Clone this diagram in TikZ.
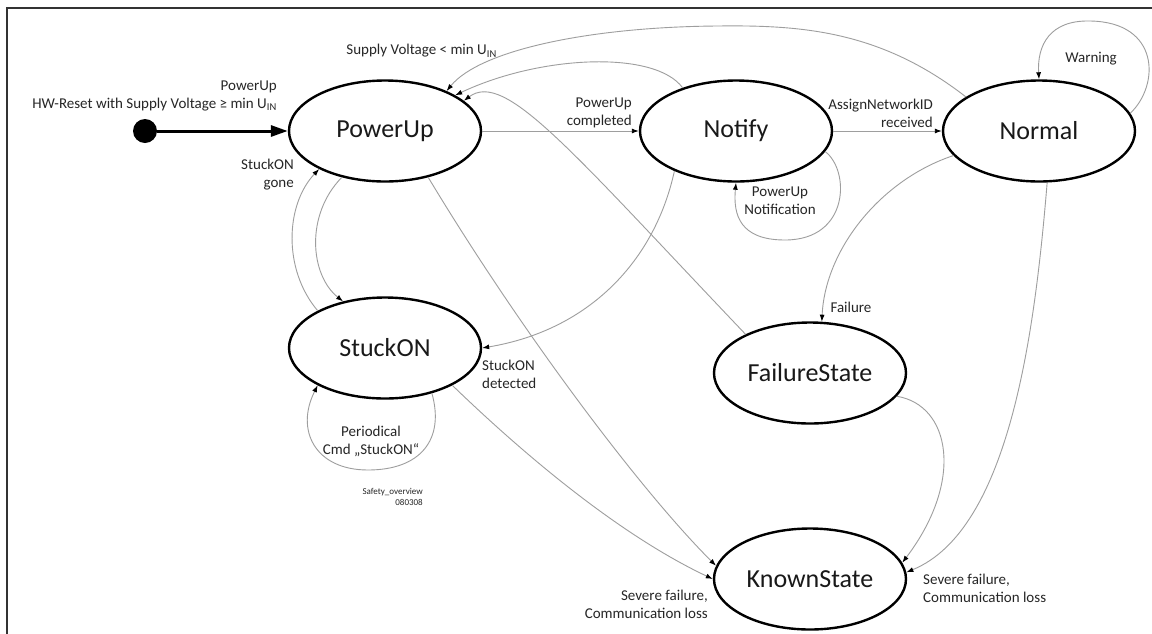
\documentclass[tikz,border=0pt]{standalone}
\usepackage{fontspec}
\setmainfont{Carlito}
\usetikzlibrary{shapes.geometric,arrows.meta}

\begin{document}
\begin{tikzpicture}[x=1pt,y=-1pt,
  state/.style={ellipse,draw=black,line width=2.4pt,minimum width=192pt,minimum height=101pt,
    inner sep=0pt,font=\fontsize{26}{30}\selectfont,text=black!90},
  trans/.style={draw=black!38,line width=0.9pt,-{Latex[length=7pt,width=5pt,color=black]}},
  lbl/.style={font=\fontsize{15}{18}\selectfont,text=black!85,inner sep=0pt},
  tiny/.style={font=\fontsize{9}{10.5}\selectfont,text=black!85,inner sep=0pt}
]
\useasboundingbox (0,0) rectangle (1152,633);
\fill[white] (0,0) rectangle (1152,633);

% outer frame (only top and left edges fall inside the page)
\draw[line width=2pt,black!80] (7,640) -- (7,8) -- (1160,8);

% states
\node[state] (pu) at (385,131) {PowerUp};
\node[state] (nt) at (736,131) {Notify};
\node[state] (nm) at (1039,131) {Normal};
\node[state] (so) at (385,348) {StuckON};
\node[state] (fs) at (810,373) {FailureState};
\node[state] (ks) at (810,579) {KnownState};

% initial pseudo state
\node[circle,fill=black,minimum size=24pt,inner sep=0pt] (init) at (145,131) {};
\draw[line width=3pt,-{Triangle[length=17pt,width=11pt]}] (init) -- (pu.west);

% transitions
\draw[trans] (pu.east) -- (nt.west);
\draw[trans] (nt.east) -- (nm.west);
\draw[trans] (nm.11) .. controls (1160,85) and (1160,22) .. (1090,21)
                     .. controls (1050,20) and (1037,45) .. (nm.90);
\draw[trans] (nm.155) .. controls (880,30) and (800,25) .. (717,26)
                      .. controls (590,27) and (480,50) .. (pu.33);
\draw[trans] (nt.141) .. controls (655,50) and (540,55) .. (pu.27);
\draw[trans] (fs.149) .. controls (570,150) and (505,70) .. (pu.21);
\draw[trans] (nt.-13) .. controls (850,170) and (850,240) .. (785,240)
                      .. controls (740,240) and (733,215) .. (nt.-90);
\draw[trans] (nt.213) .. controls (655,260) and (590,330) .. (so.0);
\draw[trans] (pu.227) .. controls (305,215) and (310,275) .. (so.132);
\draw[trans] (so.151) .. controls (283,270) and (285,205) .. (pu.210);
\draw[trans] (so.-44) .. controls (445,440) and (420,470) .. (368,470)
                      .. controls (315,470) and (295,430) .. (so.209);
\draw[trans] (so.-29) .. controls (540,470) and (630,540) .. (ks.180);
\draw[trans] (pu.-47) .. controls (520,330) and (640,490) .. (ks.172);
\draw[trans] (nm.196) .. controls (880,180) and (825,250) .. (fs.77);
\draw[trans] (fs.-15) .. controls (950,405) and (965,480) .. (ks.10);
\draw[trans] (nm.-81) .. controls (1035,330) and (1010,530) .. (ks.4);

% transition labels
\node[lbl,anchor=east,align=right] (linit) at (277,96)
  {PowerUp\\HW-Reset with Supply Voltage ≥ min U\textsubscript{IN}};
\node[lbl,anchor=east] (lsupply) at (497,51) {Supply Voltage < min U\textsubscript{IN}};
\node[lbl,anchor=east,align=right] (lgone) at (294,175) {StuckON\\gone};
\node[lbl,anchor=east,align=right] (lcompl) at (632,113) {PowerUp\\completed};
\node[lbl,anchor=east,align=right] (lassign) at (933,113) {AssignNetworkID\\received};
\node[lbl,align=center] (lnotif) at (780,201) {PowerUp\\Notification};
\node[lbl] (lwarn) at (1091,59) {Warning};
\node[lbl] (lfail) at (851,307) {Failure};
\node[lbl,anchor=west,align=left] (ldet) at (482,374) {StuckON\\detected};
\node[lbl,align=center] (lper) at (371,441) {Periodical\\Cmd „StuckON“};
\node[lbl,anchor=east,align=right] (lsev1) at (708,604) {Severe failure,\\Communication loss};
\node[lbl,anchor=west,align=left] (lsev2) at (923,588) {Severe failure,\\Communication loss};
\node[tiny,anchor=east,align=right] (lref) at (423,497) {Safety\_overview\\080308};
\end{tikzpicture}
\end{document}
